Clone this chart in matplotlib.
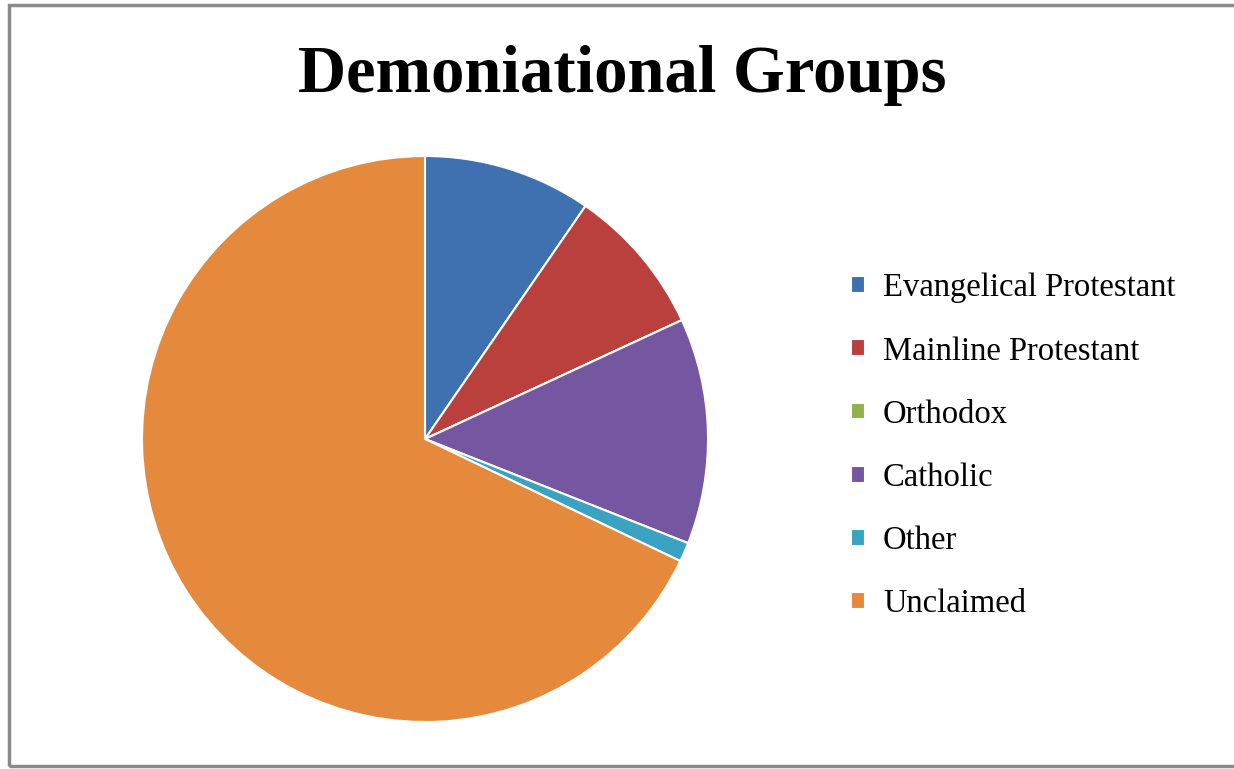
import matplotlib.pyplot as plt
from matplotlib.patches import Rectangle

# datos del gráfico (porcentajes)
groups = ['Evangelical Protestant', 'Mainline Protestant', 'Orthodox',
          'Catholic', 'Other', 'Unclaimed']
shares = [9.6, 8.5, 0.0, 12.9, 1.1, 67.9]
colors = ['#3f70b0', '#b9403c', '#8fb04e', '#7556a0', '#3ba3c2', '#e5893c']

fig = plt.figure(figsize=(12.34, 7.69), dpi=100)
fig.patch.set_facecolor('white')

# marco gris (arriba, izquierda, abajo)
fig.add_artist(Rectangle((0.007, 0.004), 1.2, 0.99, transform=fig.transFigure,
                         fill=False, edgecolor='#8a8a8a', linewidth=2.5))

ax = fig.add_axes([142 / 1234, 1 - 722 / 769, 566 / 1234, 566 / 769])
wedges, _ = ax.pie(shares, colors=colors, startangle=90, counterclock=False,
                   wedgeprops=dict(edgecolor='white', linewidth=1.5))
ax.set_xlim(-1.0, 1.0)
ax.set_ylim(-1.0, 1.0)
ax.set_aspect('equal')

fig.text(622 / 1234, 1 - 76 / 769, 'Demoniational Groups', ha='center', va='center',
         fontsize=48, fontweight='bold', family='Liberation Serif')

fig.legend(wedges, groups, loc='center left', bbox_to_anchor=(822 / 1234, 1 - 446 / 769),
           frameon=False, prop=dict(family='Liberation Serif', size=23.5),
           handlelength=0.42, handleheight=0.42, handletextpad=0.55, labelspacing=1.0)

fig.savefig('out.png', dpi=100)
